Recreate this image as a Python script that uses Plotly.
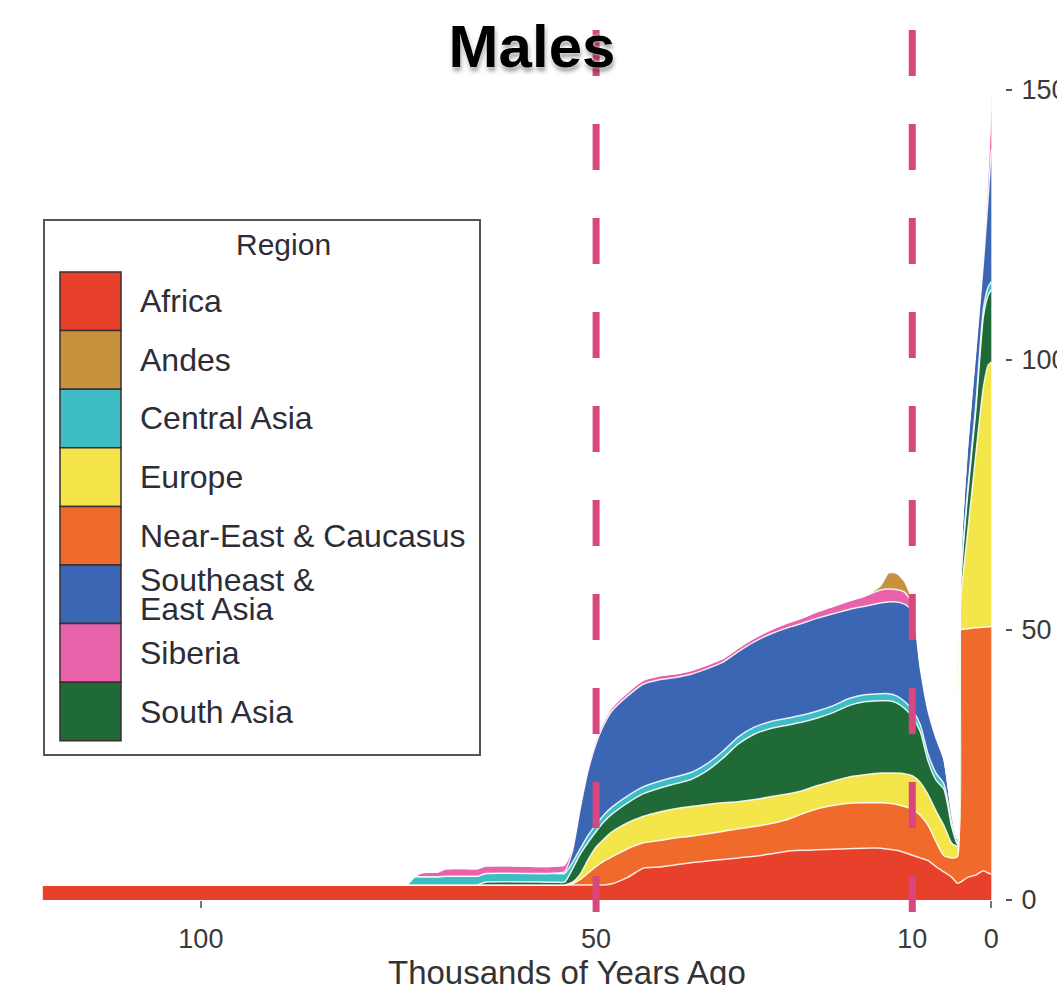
import plotly.graph_objects as go

# Time axis: thousands of years ago
KYA = [120, 75, 74, 73, 72, 70, 69, 66, 65, 64,
       56, 55, 54, 53, 52, 51, 50, 49, 48, 46,
       44, 42, 40, 38, 36, 34, 32, 30, 28, 26,
       24, 22, 20, 18, 16, 14, 13, 12, 11, 10,
       9, 8, 7, 6, 5, 4.3, 3.9, 3, 2, 1,
       0.4, 0]

# Effective population size contribution per region (stacked)
AFRICA = [2.8, 2.8, 2.8, 2.8, 2.8, 2.8, 2.8, 2.8, 2.8, 2.8,
          2.8, 2.8, 2.8, 2.8, 2.8, 2.8, 2.8, 2.8, 3.0, 4.2,
          5.9, 6.1, 6.5, 6.9, 7.2, 7.5, 7.8, 8.1, 8.5, 9.0,
          9.2, 9.3, 9.4, 9.5, 9.6, 9.6, 9.4, 9.2, 8.8, 8.3,
          7.8, 7.3, 6.2, 5.2, 4.2, 3.1, 3.3, 4.2, 4.6, 5.4,
          5.0, 4.8]
NEAR_EAST = [0, 0, 0, 0, 0, 0, 0, 0, 0, 0,
             0, 0, 0, 0.2, 1.0, 2.2, 3.4, 4.4, 5.0, 5.3,
             4.7, 4.9, 5.0, 4.9, 5.0, 5.2, 5.4, 5.5, 5.6, 5.8,
             6.7, 7.6, 8.1, 8.4, 8.4, 8.4, 8.5, 8.5, 8.5, 8.5,
             7.9, 6.5, 4.6, 3.0, 3.6, 4.9, 46.7, 46.0, 45.8, 45.1,
             45.6, 45.8]
EUROPE = [0, 0, 0, 0, 0, 0, 0, 0, 0, 0,
          0, 0, 0, 0.3, 1.0, 2.5, 3.6, 4.1, 4.6, 4.8,
          4.9, 5.3, 5.4, 5.5, 5.5, 5.3, 5.0, 5.0, 5.0, 4.8,
          4.3, 4.3, 4.5, 4.9, 5.2, 5.5, 5.6, 5.8, 6.1, 6.2,
          6.1, 5.7, 5.7, 5.6, 2.7, 2.0, 5.0, 17.8, 31.6, 44.5,
          48.4, 49.0]
SOUTH_ASIA = [0, 0, 0, 0, 0, 0, 0, 0, 0, 0.5,
              0.5, 0.5, 0.5, 2.4, 3.7, 3.2, 2.9, 3.2, 3.3, 3.7,
              4.2, 4.4, 4.6, 5.0, 6.2, 8.2, 10.7, 12.1, 12.6, 12.7,
              12.7, 12.5, 12.7, 13.2, 13.5, 13.4, 13.4, 13.0, 12.1, 10.9,
              9.4, 6.2, 5.7, 6.7, 3.0, 0.3, 3.0, 7.0, 8.0, 13.0,
              13.0, 13.4]
CENTRAL_ASIA = [0, 0, 0, 1.5, 1.5, 1.5, 1.6, 1.6, 1.6, 1.6,
                1.6, 1.6, 1.6, 1.2, 1.0, 1.3, 1.3, 1.3, 1.3, 1.3,
                1.3, 1.3, 1.3, 1.3, 1.3, 1.3, 1.3, 1.3, 1.3, 1.3,
                1.3, 1.3, 1.3, 1.3, 1.3, 1.3, 1.3, 1.3, 1.3, 1.3,
                1.3, 1.3, 1.3, 1.0, 0.8, 0.3, 0.5, 0.8, 1.0, 1.5,
                1.5, 1.5]
SE_EAST_ASIA = [0, 0, 0, 0, 0, 0, 0, 0, 0, 0,
                0, 0.1, 0.3, 2.1, 7.5, 12.0, 15.0, 16.7, 17.8, 18.5,
                19.0, 18.8, 18.4, 18.2, 17.6, 16.5, 15.8, 15.8, 16.2, 16.7,
                17.0, 17.2, 17.0, 16.5, 16.4, 16.8, 17.0, 17.4, 18.0, 18.3,
                10.5, 8.0, 6.5, 4.5, 1.7, 0.6, 3.5, 8.2, 10.0, 8.5,
                16.5, 24.5]
SIBERIA = [0, 0, 0, 0, 0.8, 0.9, 1.4, 1.4, 1.4, 1.4,
           1.3, 1.3, 1.3, 0.8, 0.8, 0.8, 0.8, 0.7, 0.7, 0.7,
           0.7, 0.7, 0.7, 0.7, 0.7, 0.7, 0.7, 0.7, 0.8, 0.9,
           1.0, 1.2, 1.4, 1.6, 1.9, 2.4, 2.4, 2.3, 2.2, 1.4,
           0.8, 0.5, 0.4, 0.3, 0.2, 0.2, 0.3, 0.5, 0.8, 2.0,
           5.0, 9.0]
ANDES = [0, 0, 0, 0, 0, 0, 0, 0, 0, 0,
         0, 0, 0, 0, 0, 0, 0, 0, 0, 0,
         0, 0, 0, 0, 0, 0, 0, 0, 0, 0,
         0, 0, 0, 0, 0, 0.8, 3.0, 3.0, 2.0, 0.5,
         0, 0, 0, 0, 0, 0, 0, 0, 0, 0,
         1.0, 2.0]

# Legend order (alphabetical) and the bottom-to-top stacking order
LEGEND_REGIONS = ["Africa", "Andes", "Central Asia", "Europe",
                  "Near-East & Caucasus", "Southeast & East Asia",
                  "Siberia", "South Asia"]
LEGEND_LABELS = ["Africa", "Andes", "Central Asia", "Europe",
                 "Near-East & Caucasus", "Southeast &\nEast Asia",
                 "Siberia", "South Asia"]
STACK = [("Africa", AFRICA), ("Near-East & Caucasus", NEAR_EAST),
         ("Europe", EUROPE), ("South Asia", SOUTH_ASIA),
         ("Central Asia", CENTRAL_ASIA), ("Southeast & East Asia", SE_EAST_ASIA),
         ("Siberia", SIBERIA), ("Andes", ANDES)]

COLORS = {
    "Africa": "#E8412B",
    "Andes": "#C8913E",
    "Central Asia": "#3EBEC4",
    "Europe": "#F4E54A",
    "Near-East & Caucasus": "#F06A2C",
    "Southeast & East Asia": "#3B66B3",
    "Siberia": "#E863A9",
    "South Asia": "#1F6A37",
}

X_TICKS = [100, 50, 10, 0]
Y_TICKS = [0, 50, 100, 150]
MARKERS_KYA = [50, 10]

W, H = 1057, 985
PL, PR, PT, PB = 42, 1005, 30, 900
FONT = "Liberation Sans, Arial, Helvetica, sans-serif"


def fx(px):
    return (px - PL) / (PR - PL)


def fy(py):
    return (PB - py) / (PB - PT)


fig = go.Figure()
for name, values in STACK:
    fig.add_trace(go.Scatter(
        x=KYA, y=values, name=name, stackgroup="pop", mode="lines",
        line=dict(color="rgba(255,255,255,0.85)", width=1.5,
                  shape="spline", smoothing=0.6),
        fillcolor=COLORS[name], showlegend=False, hoverinfo="skip",
    ))

shapes = []
annotations = []

# Period markers
for k in MARKERS_KYA:
    shapes.append(dict(type="line", xref="x", yref="paper", x0=k, x1=k,
                       y0=1.0, y1=fy(912),
                       line=dict(color="#D8487E", width=7, dash="46px,48px"),
                       layer="above"))

# Legend panel
shapes.append(dict(type="rect", xref="paper", yref="paper",
                   x0=fx(44), x1=fx(480), y0=fy(755), y1=fy(220),
                   line=dict(color="#555555", width=2), fillcolor="white",
                   layer="above"))
annotations.append(dict(text="Region", xref="paper", yref="paper",
                        x=fx(283), y=fy(245), xanchor="center", yanchor="middle",
                        showarrow=False, font=dict(family=FONT, size=30, color="#2d2d38")))
row_top, row_h = 272, 58.6
for i, (region, label) in enumerate(zip(LEGEND_REGIONS, LEGEND_LABELS)):
    y0 = row_top + i * row_h
    y1 = y0 + row_h
    shapes.append(dict(type="rect", xref="paper", yref="paper",
                       x0=fx(60), x1=fx(121), y0=fy(y1), y1=fy(y0),
                       fillcolor=COLORS[region],
                       line=dict(color="#3a2f2f", width=1.5), layer="above"))
    lines = label.split("\n")
    cy = (y0 + y1) / 2
    offs = [0] if len(lines) == 1 else [-14.5, 14.5]
    for line_text, off in zip(lines, offs):
        annotations.append(dict(text=line_text, xref="paper", yref="paper",
                                x=fx(138), y=fy(cy + off), xanchor="left",
                                yanchor="middle", showarrow=False,
                                font=dict(family=FONT, size=32, color="#2d2d38")))

# Axis title
annotations.append(dict(text="Thousands of Years Ago", xref="paper", yref="paper",
                        x=fx(567), y=fy(973), xanchor="center", yanchor="middle",
                        showarrow=False, font=dict(family=FONT, size=33, color="#333333")))

fig.update_layout(
    width=W, height=H,
    margin=dict(l=PL, r=W - PR, t=PT, b=H - PB, autoexpand=False),
    paper_bgcolor="white", plot_bgcolor="white",
    template="none",
    title=dict(text="<b>Males</b>", x=532 / W, y=1 - 46 / H,
               xref="container", yref="container",
               xanchor="center", yanchor="middle",
               font=dict(family=FONT, size=60, color="black",
                         shadow="0px 0px 3px white, 1px 4px 4px rgba(0,0,0,0.4)")),
    xaxis=dict(range=[120.1, -1.73], tickvals=X_TICKS,
               ticktext=[str(v) for v in X_TICKS],
               ticks="outside", ticklen=7, tickwidth=1.5, tickcolor="#777777",
               ticklabelstandoff=8,
               showgrid=False, zeroline=False, showline=False, automargin=False,
               tickfont=dict(family=FONT, size=27, color="#3a3a3a")),
    yaxis=dict(range=[0, 161.1], side="right", tickvals=Y_TICKS,
               ticktext=[str(v) for v in Y_TICKS],
               ticks="outside", ticklen=6, tickwidth=1.5, tickcolor="#555555",
               ticklabelstandoff=4,
               showgrid=False, zeroline=False, showline=False, automargin=False,
               tickfont=dict(family=FONT, size=27, color="#3a3a3a")),
    shapes=shapes,
    annotations=annotations,
)

fig.write_html("out.html")
